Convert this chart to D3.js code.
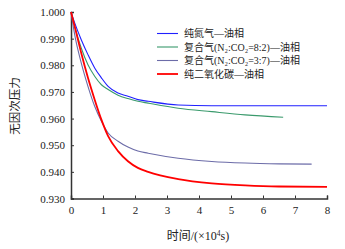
<!DOCTYPE html>
<html lang="zh">
<head>
<meta charset="utf-8">
<script src="https://d3js.org/d3.v7.min.js"></script>
<style>
  body { margin: 0; background: #fff; }
  svg { display: block; }
  .tick text { font-family: "Liberation Serif", "Noto Sans CJK SC", serif; font-size: 11px; fill: #222; }
  .lbl { font-family: "Liberation Serif", "Noto Sans CJK SC", serif; fill: #222; }
</style>
</head>
<body>
<svg width="345" height="249"></svg>
<script>
// data
var xTicks = [0, 1, 2, 3, 4, 5, 6, 7, 8];
var yTicks = [0.930, 0.940, 0.950, 0.960, 0.970, 0.980, 0.990, 1.000];

var n2Time  = [0, 0.115, 0.32, 0.53, 0.74, 0.95, 1.16, 1.47, 1.78, 2.09, 2.41, 3.35, 4.4, 5.44, 6.5, 8];
var n2Value = [1.000, 0.9959, 0.9896, 0.9840, 0.9790, 0.9753, 0.9721, 0.9696, 0.9684, 0.9671, 0.9665, 0.9651, 0.9648, 0.9648, 0.9648, 0.9648];

var mix82Time  = [0, 0.115, 0.32, 0.53, 0.74, 0.95, 1.16, 1.47, 1.78, 2.09, 2.41, 3.35, 4.4, 5.44, 6.63];
var mix82Value = [1.000, 0.9946, 0.9865, 0.9802, 0.9759, 0.9727, 0.9709, 0.9688, 0.9675, 0.9665, 0.9658, 0.9639, 0.9626, 0.9614, 0.9605];

var mix37Time  = [0, 0.115, 0.32, 0.53, 0.74, 0.95, 1.16, 1.47, 1.78, 2.09, 2.41, 3.35, 4.4, 5.44, 6.5, 7.52];
var mix37Value = [1.000, 0.9915, 0.9809, 0.9721, 0.9646, 0.9590, 0.9546, 0.9515, 0.9493, 0.9478, 0.9470, 0.9451, 0.9439, 0.9433, 0.9430, 0.9429];

var co2Time  = [0, 0.115, 0.32, 0.53, 0.74, 0.95, 1.16, 1.47, 1.78, 2.09, 2.41, 3.35, 4.4, 5.44, 6.5, 8];
var co2Value = [1.000, 0.9946, 0.9846, 0.9753, 0.9671, 0.9596, 0.9534, 0.9478, 0.9440, 0.9415, 0.9400, 0.9373, 0.9357, 0.9349, 0.9345, 0.9344];

var seriesNames = ["纯氮气—油相", "复合气(N₂:CO₂=8:2)—油相", "复合气(N₂:CO₂=3:7)—油相", "纯二氧化碳—油相"];

var series = [
  { name: seriesNames[0], t: n2Time, v: n2Value, color: "#2020ff", w: 1.1 },
  { name: seriesNames[1], t: mix82Time, v: mix82Value, color: "#3a9a6c", w: 1.1 },
  { name: seriesNames[2], t: mix37Time, v: mix37Value, color: "#6c6ca8", w: 1.1 },
  { name: seriesNames[3], t: co2Time, v: co2Value, color: "#ff0000", w: 1.8 }
];

var svg = d3.select("svg");
var x = d3.scaleLinear().domain([0, 8]).range([71, 327]);
var y = d3.scaleLinear().domain([0.930, 1.000]).range([198.5, 12]);

// axes, ticks pointing inward
var xAxis = svg.append("g")
  .attr("transform", "translate(0," + y(0.930) + ")")
  .call(d3.axisBottom(x).tickValues(xTicks).tickSize(-3).tickPadding(8).tickFormat(d3.format("d")));
var yAxis = svg.append("g")
  .attr("transform", "translate(" + x(0) + ",0)")
  .call(d3.axisLeft(y).tickValues(yTicks).tickSize(-3).tickPadding(6).tickFormat(d3.format(".3f")));

[xAxis, yAxis].forEach(function (a) {
  a.select(".domain").attr("stroke", "#333").attr("stroke-width", 1.5);
  a.selectAll(".tick line").attr("stroke", "#333");
});

// curves
var line = d3.line()
  .x(function (d) { return x(d[0]); })
  .y(function (d) { return y(d[1]); })
  .curve(d3.curveMonotoneX);

series.forEach(function (s) {
  svg.append("path")
    .datum(d3.zip(s.t, s.v))
    .attr("fill", "none")
    .attr("stroke", s.color)
    .attr("stroke-width", s.w)
    .attr("d", line);
});

// legend
var legend = svg.append("g");
series.forEach(function (s, i) {
  var ly = 33.5 + i * 13.5;
  legend.append("line")
    .attr("x1", 157).attr("x2", 178)
    .attr("y1", ly).attr("y2", ly)
    .attr("stroke", s.color).attr("stroke-width", s.w);
  legend.append("text")
    .attr("class", "lbl")
    .attr("x", 184).attr("y", ly + 3.5)
    .attr("font-size", "10px")
    .text(s.name);
});

// axis titles
svg.append("text")
  .attr("class", "lbl")
  .attr("transform", "translate(19,106) rotate(-90)")
  .attr("text-anchor", "middle")
  .attr("font-size", "11.5px")
  .text("无因次压力");

var xt = svg.append("text")
  .attr("class", "lbl")
  .attr("x", 198).attr("y", 240)
  .attr("text-anchor", "middle")
  .attr("font-size", "12px");
xt.append("tspan").text("时间/(×10");
xt.append("tspan").attr("dy", -4).attr("font-size", "7.5px").text("4");
xt.append("tspan").attr("dy", 4).text("s)");
</script>
</body>
</html>
